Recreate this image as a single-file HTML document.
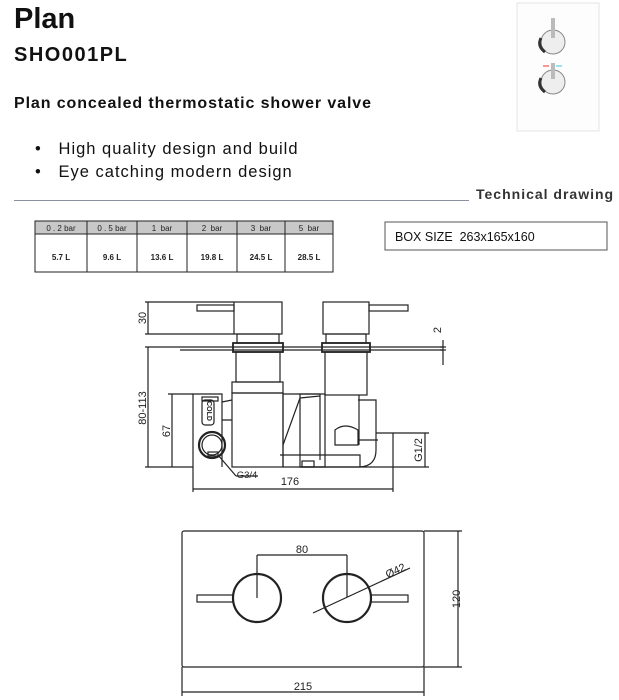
<!DOCTYPE html>
<html><head><meta charset="utf-8"><style>
html,body{margin:0;padding:0;background:#fff;width:619px;height:700px;overflow:hidden;font-family:"Liberation Sans",sans-serif;color:#111}
.a{position:absolute;white-space:nowrap}
</style></head><body>
<div class="a" style="left:14px;top:3px;font-size:29px;font-weight:bold">Plan</div>
<div class="a" style="left:14px;top:44px;font-size:20px;font-weight:bold;letter-spacing:1.5px">SHO001PL</div>
<div class="a" style="left:14px;top:95px;font-size:16px;font-weight:bold;letter-spacing:0.9px">Plan concealed thermostatic shower valve</div>
<div class="a" style="left:35px;top:140px;font-size:16.5px;letter-spacing:1px">•&nbsp;&nbsp;&nbsp;High quality design and build</div>
<div class="a" style="left:35px;top:163px;font-size:16.5px;letter-spacing:1px">•&nbsp;&nbsp;&nbsp;Eye catching modern design</div>
<div class="a" style="left:476px;top:186px;font-size:14px;font-weight:bold;color:#333;letter-spacing:1px">Technical drawing</div>
<div class="a" style="left:14px;top:200px;width:455px;height:1px;background:#8a8f9e"></div>
<svg class="a" style="left:0;top:0" width="619" height="700" viewBox="0 0 619 700" font-family="Liberation Sans, sans-serif">
<rect x="517" y="3" width="82" height="128" fill="#fdfdfd" stroke="#e4e4e4"/>
<circle cx="553" cy="42" r="12" fill="#eee" stroke="#888"/><path d="M541 38 q-4 8 4 14" stroke="#333" stroke-width="3" fill="none"/>
<rect x="551" y="18" width="4" height="20" fill="#bbb"/>
<circle cx="553" cy="82" r="12" fill="#eee" stroke="#888"/><path d="M541 78 q-4 8 4 14" stroke="#333" stroke-width="3" fill="none"/>
<rect x="551" y="63" width="4" height="16" fill="#bbb"/>
<line x1="543" y1="66" x2="549" y2="66" stroke="#e33"/><line x1="556" y1="66" x2="562" y2="66" stroke="#3cd"/>
<g stroke="#222" stroke-width="1" fill="none">
<rect x="35" y="221" width="298" height="13" fill="#c8c8c8"/>
<rect x="35" y="221" width="298" height="51"/>
<line x1="87" y1="221" x2="87" y2="272"/><line x1="137" y1="221" x2="137" y2="272"/><line x1="187" y1="221" x2="187" y2="272"/><line x1="237" y1="221" x2="237" y2="272"/><line x1="285" y1="221" x2="285" y2="272"/>
<rect x="385" y="222" width="222" height="28" stroke="#555"/>
</g>
<g font-size="8" fill="#222" text-anchor="middle">
<text x="61" y="231">0 . 2 bar</text><text x="112" y="231">0 . 5 bar</text><text x="162" y="231">1&#160; bar</text><text x="212" y="231">2&#160; bar</text><text x="261" y="231">3&#160; bar</text><text x="309" y="231">5&#160; bar</text>
<g font-weight="bold"><text x="61" y="260">5.7 L</text><text x="112" y="260">9.6 L</text><text x="162" y="260">13.6 L</text><text x="212" y="260">19.8 L</text><text x="261" y="260">24.5 L</text><text x="309" y="260">28.5 L</text></g>
</g>
<text x="395" y="241" font-size="12.5" fill="#111">BOX SIZE&#160; 263x165x160</text>
<g stroke="#222" stroke-width="1.2" fill="none">
<line x1="148" y1="302" x2="148" y2="334"/><line x1="148" y1="347" x2="148" y2="467"/>
<line x1="145" y1="302" x2="234" y2="302"/><line x1="145" y1="334" x2="234" y2="334"/><line x1="145" y1="347" x2="180" y2="347"/><line x1="145" y1="467" x2="193" y2="467"/>
<rect x="234" y="302" width="48" height="32"/><rect x="197" y="305" width="37" height="6"/>
<rect x="323" y="302" width="46" height="32"/><rect x="369" y="305" width="39" height="6"/>
<rect x="237" y="334" width="42" height="9"/><rect x="326" y="334" width="40" height="9"/>
<line x1="180" y1="347" x2="443" y2="347"/><line x1="180" y1="350" x2="443" y2="350"/>
<rect x="233" y="343" width="50" height="9" stroke-width="1.8"/><rect x="322" y="343" width="48" height="9" stroke-width="1.8"/>
<rect x="236" y="352" width="44" height="30"/><rect x="232" y="382" width="51" height="11"/>
<rect x="232" y="393" width="51" height="74"/>
<rect x="325" y="352" width="42" height="43"/>
<path d="M193 467 V394 H222 V467"/><rect x="202" y="397" width="16" height="4"/>
<rect x="202" y="400" width="12" height="25" rx="3"/>
<path d="M222 402 L232 400 M222 420 L232 420"/>
<path d="M283 467 V394 H320 V460 M300 398 L320 396"/>
<path d="M283 445 L300 398"/>
<rect x="300" y="394" width="25" height="73"/>
<path d="M280 455 H360 V467 H283"/>
<path d="M359 395 V445 M359 440 H378"/>
<path d="M358 400 H376 V450 Q376 466 360 467 H300"/>
<path d="M335 430 Q345 422 358 430 V445 H335 Z"/>
<rect x="302" y="461" width="12" height="6"/>
<path d="M376 433 H393 V467 H360"/>
<circle cx="212" cy="445" r="13" stroke-width="2.2"/><circle cx="212" cy="445" r="10"/>
<rect x="208" y="452" width="10" height="4"/>
<line x1="172" y1="394" x2="172" y2="467"/><line x1="168" y1="394" x2="193" y2="394"/>
<line x1="193" y1="467" x2="193" y2="492"/><line x1="393" y1="467" x2="393" y2="492"/>
<line x1="193" y1="489" x2="393" y2="489"/>
<line x1="218" y1="455" x2="236" y2="476"/><line x1="236" y1="476" x2="258" y2="476"/>
<line x1="425" y1="433" x2="425" y2="467"/><line x1="393" y1="433" x2="429" y2="433"/><line x1="393" y1="467" x2="429" y2="467"/>
<line x1="443" y1="340" x2="443" y2="365"/><line x1="440" y1="347" x2="446" y2="347"/><line x1="440" y1="350" x2="446" y2="350"/>
</g>
<g font-size="11" fill="#222" text-anchor="middle">
<text transform="translate(146,318) rotate(-90)">30</text>
<text transform="translate(146,408) rotate(-90)">80-113</text>
<text transform="translate(170,431) rotate(-90)">67</text>
<text transform="translate(422,450) rotate(-90)">G1/2</text>
<text transform="translate(441,330) rotate(-90)">2</text>
<text x="290" y="485">176</text>
<text x="247" y="478" font-size="9.5">G3/4</text>
<text transform="translate(207,411) rotate(90)" font-size="7" font-weight="bold">COLD</text>
</g>
<g stroke="#222" stroke-width="1.2" fill="none">
<rect x="182" y="531" width="242" height="136" rx="2"/>
<circle cx="257" cy="598" r="24" stroke-width="2.2"/><circle cx="347" cy="598" r="24" stroke-width="2.2"/>
<rect x="197" y="595" width="36" height="7"/><rect x="371" y="595" width="37" height="7"/>
<line x1="257" y1="555" x2="257" y2="598"/><line x1="347" y1="555" x2="347" y2="597"/>
<line x1="257" y1="555" x2="347" y2="555"/>
<line x1="313" y1="613" x2="410" y2="568"/>
<line x1="424" y1="531" x2="462" y2="531"/><line x1="424" y1="667" x2="462" y2="667"/>
<line x1="458" y1="531" x2="458" y2="667"/>
<line x1="182" y1="667" x2="182" y2="696"/><line x1="424" y1="667" x2="424" y2="696"/>
<line x1="182" y1="692" x2="424" y2="692"/>
</g>
<g font-size="11" fill="#222" text-anchor="middle">
<text x="302" y="553">80</text>
<text transform="translate(397,574) rotate(-25)">Ø42</text>
<text transform="translate(460,599) rotate(-90)">120</text>
<text x="303" y="690">215</text>
</g>
</svg>
</body></html>
